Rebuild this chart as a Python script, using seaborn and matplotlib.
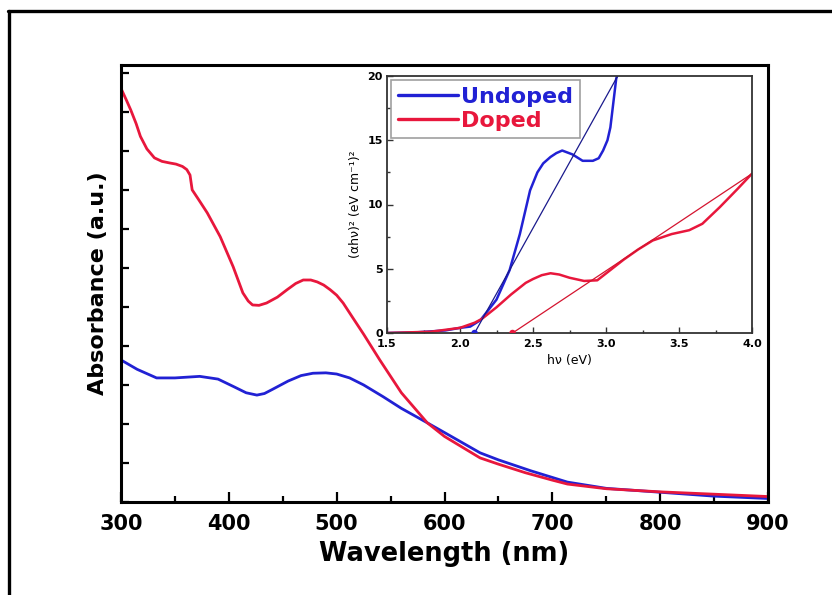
import matplotlib
matplotlib.use("Agg")
import matplotlib.pyplot as plt
from matplotlib.lines import Line2D
from matplotlib.ticker import MultipleLocator, NullFormatter
import seaborn as sns
import pandas as pd

# UV-vis absorbance spectra (arbitrary units)
wl_doped = [300, 305, 309, 314, 318, 324, 331, 338, 345, 351, 357, 361, 364, 366,
            372, 380, 392, 404, 413, 418, 422, 428, 435, 445, 454, 462, 469, 476,
            482, 488, 494, 500, 506, 515, 525, 540, 560, 584, 600, 633, 650, 675,
            700, 714, 750, 800, 850, 900]
abs_doped = [1.06, 1.03, 1.005, 0.97, 0.937, 0.905, 0.882, 0.873, 0.869, 0.866,
             0.86, 0.852, 0.838, 0.80, 0.775, 0.741, 0.68, 0.603, 0.536, 0.515,
             0.505, 0.504, 0.51, 0.525, 0.544, 0.56, 0.569, 0.569, 0.564, 0.556,
             0.544, 0.53, 0.51, 0.472, 0.43, 0.364, 0.28, 0.203, 0.168, 0.113,
             0.097, 0.075, 0.056, 0.046, 0.034, 0.026, 0.02, 0.014]

wl_undoped = [300, 315, 333, 350, 373, 390, 405, 416, 426, 433, 440, 455, 467, 478,
              490, 500, 512, 525, 543, 560, 584, 600, 633, 650, 680, 714, 750, 800,
              850, 900]
abs_undoped = [0.364, 0.34, 0.318, 0.318, 0.322, 0.315, 0.295, 0.28, 0.274, 0.278,
               0.288, 0.31, 0.324, 0.33, 0.331, 0.328, 0.318, 0.30, 0.27, 0.24,
               0.203, 0.178, 0.126, 0.108, 0.08, 0.051, 0.035, 0.025, 0.015, 0.009]

# Tauc plot: (alpha h nu)^2 versus photon energy
ev_undoped = [1.5, 1.7, 1.9, 2.0, 2.07, 2.14, 2.25, 2.34, 2.41, 2.48, 2.53, 2.57,
              2.62, 2.66, 2.70, 2.77, 2.84, 2.91, 2.95, 2.98, 3.01, 3.03, 3.07, 3.09]
tauc_undoped = [0.0, 0.05, 0.2, 0.4, 0.5, 1.0, 2.6, 4.9, 7.7, 11.1, 12.5, 13.2,
                13.7, 14.0, 14.2, 13.9, 13.4, 13.4, 13.6, 14.2, 15.0, 16.0, 19.8, 20.5]

ev_doped = [1.5, 1.8, 2.0, 2.1, 2.15, 2.25, 2.35, 2.45, 2.5, 2.56, 2.62, 2.68, 2.75,
            2.85, 2.94, 3.03, 3.12, 3.22, 3.32, 3.45, 3.57, 3.66, 3.78, 3.9, 4.0]
tauc_doped = [0.0, 0.1, 0.4, 0.8, 1.1, 2.0, 3.0, 3.9, 4.2, 4.5, 4.65, 4.55, 4.3,
              4.05, 4.1, 4.9, 5.7, 6.5, 7.2, 7.7, 8.0, 8.5, 9.8, 11.2, 12.4]

# Linear extrapolations to the energy axis (band gaps)
fit_ev_undoped = [2.10, 3.08]
fit_tauc_undoped = [0.0, 20.0]
fit_ev_doped = [2.36, 4.0]
fit_tauc_doped = [0.0, 12.4]

BLUE = "#2121d4"
RED = "#e8173c"

sns.set_style("ticks")
plt.rcParams["font.family"] = ["DejaVu Sans"]
plt.rcParams["text.color"] = "black"
plt.rcParams["axes.labelcolor"] = "black"
plt.rcParams["xtick.color"] = "black"
plt.rcParams["ytick.color"] = "black"

fig = plt.figure(figsize=(8.32, 5.95), dpi=100)

# outer frame (top and left edges)
fig.add_artist(Line2D([8 / 832, 1.0], [1 - 11 / 595, 1 - 11 / 595],
                      color="black", lw=2.4, transform=fig.transFigure))
fig.add_artist(Line2D([9 / 832, 9 / 832], [0.0, 1 - 11 / 595],
                      color="black", lw=2.4, transform=fig.transFigure))

ax = fig.add_axes([121 / 832, 1 - 502 / 595, (768 - 121) / 832, (502 - 65) / 595])

df_main = pd.concat([
    pd.DataFrame({"wl": wl_undoped, "A": abs_undoped, "s": "Undoped"}),
    pd.DataFrame({"wl": wl_doped, "A": abs_doped, "s": "Doped"}),
])
sns.lineplot(data=df_main, x="wl", y="A", hue="s", palette={"Undoped": BLUE, "Doped": RED},
             lw=2.0, ax=ax, legend=False, sort=False)

ax.set_xlim(300, 900)
ax.set_ylim(0, 1.12)
ax.xaxis.set_major_locator(MultipleLocator(100))
ax.xaxis.set_minor_locator(MultipleLocator(50))
ax.yaxis.set_major_locator(MultipleLocator(0.1))
ax.yaxis.set_major_formatter(NullFormatter())
ax.tick_params(axis="both", which="both", direction="in", width=1.6, color="black",
               labelcolor="black")
ax.tick_params(axis="x", which="major", length=7, labelsize=15, pad=9)
ax.tick_params(axis="x", which="minor", length=4)
ax.tick_params(axis="y", which="major", length=6)
for lab in ax.get_xticklabels():
    lab.set_fontweight("bold")
for sp in ax.spines.values():
    sp.set_linewidth(2.2)
    sp.set_color("black")
ax.set_xlabel("Wavelength (nm)", fontsize=18.5, fontweight="bold", labelpad=5)
ax.set_ylabel("Absorbance (a.u.)", fontsize=16, fontweight="bold", labelpad=6)

# inset: Tauc plot
ins = fig.add_axes([387 / 832, 1 - 333 / 595, (752 - 387) / 832, (333 - 76) / 595])
sns.lineplot(x=ev_undoped, y=tauc_undoped, color=BLUE, lw=1.8, ax=ins, sort=False,
             label="Undoped")
sns.lineplot(x=ev_doped, y=tauc_doped, color=RED, lw=1.8, ax=ins, sort=False,
             label="Doped")
sns.lineplot(x=fit_ev_undoped, y=fit_tauc_undoped, color="#1a1a8c", lw=0.9, ax=ins,
             legend=False)
sns.lineplot(x=fit_ev_doped, y=fit_tauc_doped, color="#d4142f", lw=0.9, ax=ins,
             legend=False)
sns.scatterplot(x=[fit_ev_undoped[0]], y=[fit_tauc_undoped[0]], color=BLUE, s=22,
                ax=ins, legend=False, zorder=5, edgecolor="none")
sns.scatterplot(x=[fit_ev_doped[0]], y=[fit_tauc_doped[0]], color=RED, s=22,
                ax=ins, legend=False, zorder=5, edgecolor="none")

ins.set_xlim(1.5, 4.0)
ins.set_ylim(0, 20)
ins.xaxis.set_minor_locator(MultipleLocator(0.25))
ins.yaxis.set_major_locator(MultipleLocator(5))
ins.yaxis.set_minor_locator(MultipleLocator(2.5))
ins.set_xticks([1.5, 2.0, 2.5, 3.0, 3.5, 4.0])
ins.set_xticklabels(["1.5", "2.0", "2.5", "3.0", "3.5", "4.0"])
ins.tick_params(axis="both", which="both", direction="in", width=1.0, color="#333333",
                labelsize=8, labelcolor="black")
ins.tick_params(axis="x", which="major", pad=4)
ins.tick_params(axis="y", which="major", pad=3)
ins.tick_params(axis="both", which="major", length=4)
ins.tick_params(axis="both", which="minor", length=2)
for lab in ins.get_xticklabels() + ins.get_yticklabels():
    lab.set_fontweight("bold")
for sp in ins.spines.values():
    sp.set_linewidth(1.3)
    sp.set_color("#333333")
ins.set_xlabel("hν (eV)", fontsize=9, labelpad=4)
ins.set_ylabel("(αhν)² (eV cm⁻¹)²", fontsize=9, labelpad=4)

leg = ins.legend(loc="upper left", bbox_to_anchor=(0.012, 0.985), borderaxespad=0,
                 fontsize=16, frameon=True, fancybox=False, handlelength=2.7,
                 handletextpad=0.15, borderpad=0.3, labelspacing=0.2)
leg.get_frame().set_edgecolor("#888888")
leg.get_frame().set_linewidth(1.2)
for txt, col in zip(leg.get_texts(), [BLUE, RED]):
    txt.set_color(col)
    txt.set_fontweight("bold")
for h in leg.get_lines():
    h.set_linewidth(2.4)

fig.savefig("out.png", dpi=100)
